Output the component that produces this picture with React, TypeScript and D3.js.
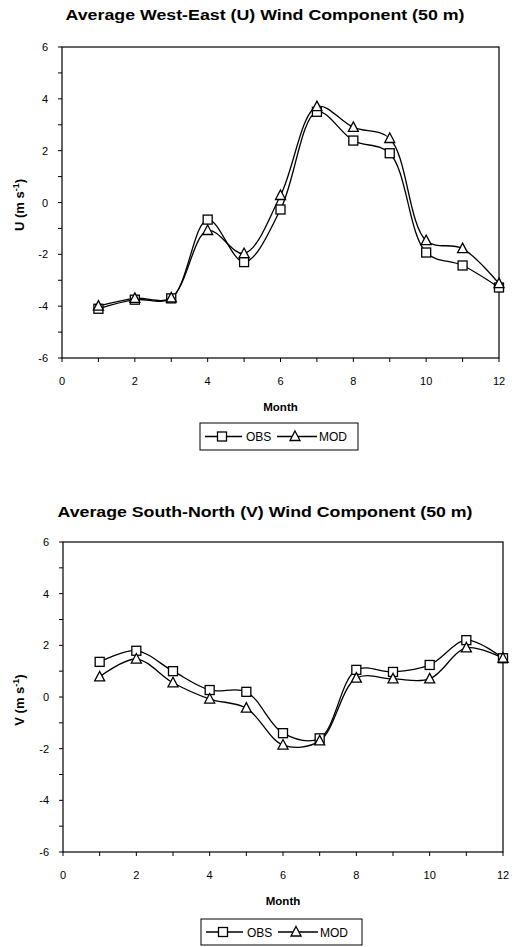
import * as d3 from 'd3';
import React from 'react';

const months = [1, 2, 3, 4, 5, 6, 7, 8, 9, 10, 11, 12];
const xTicks = [0, 2, 4, 6, 8, 10, 12];
const yTicks = [-6, -4, -2, 0, 2, 4, 6];

// U component (50 m)
const uObs = [-4.1, -3.75, -3.7, -0.66, -2.3, -0.27, 3.5, 2.39, 1.9, -1.93, -2.43, -3.28];
const uMod = [-4.0, -3.7, -3.68, -1.08, -1.97, 0.27, 3.7, 2.9, 2.47, -1.47, -1.78, -3.13];

// V component (50 m)
const vObs = [1.36, 1.79, 1.0, 0.27, 0.2, -1.4, -1.6, 1.05, 0.97, 1.24, 2.2, 1.5];
const vMod = [0.78, 1.47, 0.55, -0.08, -0.43, -1.86, -1.7, 0.73, 0.7, 0.7, 1.9, 1.5];

const FONT = 'Liberation Sans, Arial, sans-serif';

const Square = ({ x, y }: { x: number; y: number }) => (
  <rect x={x - 4.5} y={y - 4.5} width={9} height={9} fill="white" stroke="black" strokeWidth={1.3} />
);

const Triangle = ({ x, y }: { x: number; y: number }) => (
  <path d={`M${x},${y - 5.5}L${x + 5},${y + 4}L${x - 5},${y + 4}Z`} fill="white" stroke="black" strokeWidth={1.3} />
);

type PanelProps = {
  title: string;
  titleWidth: number;
  axisLetter: string;
  obs: number[];
  mod: number[];
  top: number; // title baseline
  labelY: number;
  plot: { left: number; right: number; top: number; bottom: number };
  legend: { x: number; y: number; w: number; h: number };
};

const Panel = ({ title, titleWidth, axisLetter, obs, mod, top, labelY, plot, legend }: PanelProps) => {
  const x = d3.scaleLinear().domain([0, 12]).range([plot.left, plot.right]);
  const y = d3.scaleLinear().domain([-6, 6]).range([plot.bottom, plot.top]);
  const line = d3
    .line<number>()
    .x((_, i) => x(months[i]))
    .y((d) => y(d))
    .curve(d3.curveCatmullRom.alpha(0.5));
  const minorY = d3.range(-6, 7, 1);
  const lx = legend.x;
  const ly = legend.y + legend.h / 2;

  return (
    <g fontFamily={FONT}>
      <text
        x={265}
        y={top}
        textAnchor="middle"
        fontSize={14.5}
        fontWeight="bold"
        textLength={titleWidth}
        lengthAdjust="spacingAndGlyphs"
      >
        {title}
      </text>

      {/* frame */}
      <rect
        x={plot.left}
        y={plot.top}
        width={plot.right - plot.left}
        height={plot.bottom - plot.top}
        fill="none"
        stroke="black"
        strokeWidth={1.2}
      />

      {/* y ticks */}
      {minorY.map((v) => (
        <line key={'yt' + v} x1={plot.left - 4} x2={plot.left} y1={y(v)} y2={y(v)} stroke="black" strokeWidth={1} />
      ))}
      {yTicks.map((v) => (
        <text key={'yl' + v} x={plot.left - 14} y={y(v) + 4} textAnchor="end" fontSize={11}>
          {v}
        </text>
      ))}

      {/* x ticks */}
      {d3.range(0, 13).map((v) => (
        <line key={'xt' + v} x1={x(v)} x2={x(v)} y1={plot.bottom} y2={plot.bottom + 4} stroke="black" strokeWidth={1} />
      ))}
      {xTicks.map((v) => (
        <text key={'xl' + v} x={x(v)} y={plot.bottom + 27} textAnchor="middle" fontSize={11}>
          {v}
        </text>
      ))}

      <text x={(plot.left + plot.right) / 2} y={plot.bottom + 53} textAnchor="middle" fontSize={11.5} fontWeight="bold">
        Month
      </text>
      <text
        transform={`translate(${24},${labelY}) rotate(-90)`}
        textAnchor="middle"
        fontSize={13}
        fontWeight="bold"
      >
        {axisLetter} (m s
        <tspan dy={-5} fontSize={9}>-1</tspan>
        <tspan dy={5}>)</tspan>
      </text>

      {/* series */}
      <path d={line(obs) || ''} fill="none" stroke="black" strokeWidth={1.3} />
      <path d={line(mod) || ''} fill="none" stroke="black" strokeWidth={1.3} />
      {obs.map((v, i) => (
        <Square key={'o' + i} x={x(months[i])} y={y(v)} />
      ))}
      {mod.map((v, i) => (
        <Triangle key={'m' + i} x={x(months[i])} y={y(v)} />
      ))}

      {/* legend */}
      <rect x={lx} y={legend.y} width={legend.w} height={legend.h} fill="white" stroke="black" strokeWidth={1} />
      <line x1={lx + 5} x2={lx + 42} y1={ly} y2={ly} stroke="black" strokeWidth={1.3} />
      <Square x={lx + 22} y={ly} />
      <text x={lx + 46} y={ly + 4.5} fontSize={12}>OBS</text>
      <line x1={lx + 77} x2={lx + 117} y1={ly} y2={ly} stroke="black" strokeWidth={1.3} />
      <Triangle x={lx + 95} y={ly} />
      <text x={lx + 119} y={ly + 4.5} fontSize={12}>MOD</text>
    </g>
  );
};

export default function App() {
  return (
    <svg
      width={530}
      height={947}
      style={{ position: 'absolute', left: 0, top: 0, background: 'white' }}
    >
      <rect width={530} height={947} fill="white" />
      <Panel
        title="Average West-East (U) Wind Component (50 m)"
        titleWidth={399}
        axisLetter="U"
        obs={uObs}
        mod={uMod}
        top={20}
        labelY={205}
        plot={{ left: 62, right: 499, top: 47, bottom: 358 }}
        legend={{ x: 200, y: 423, w: 158, h: 27 }}
      />
      <Panel
        title="Average South-North (V) Wind Component (50 m)"
        titleWidth={415}
        axisLetter="V"
        obs={vObs}
        mod={vMod}
        top={517}
        labelY={700}
        plot={{ left: 63, right: 503, top: 542, bottom: 852 }}
        legend={{ x: 201, y: 919, w: 161, h: 26 }}
      />
    </svg>
  );
}
